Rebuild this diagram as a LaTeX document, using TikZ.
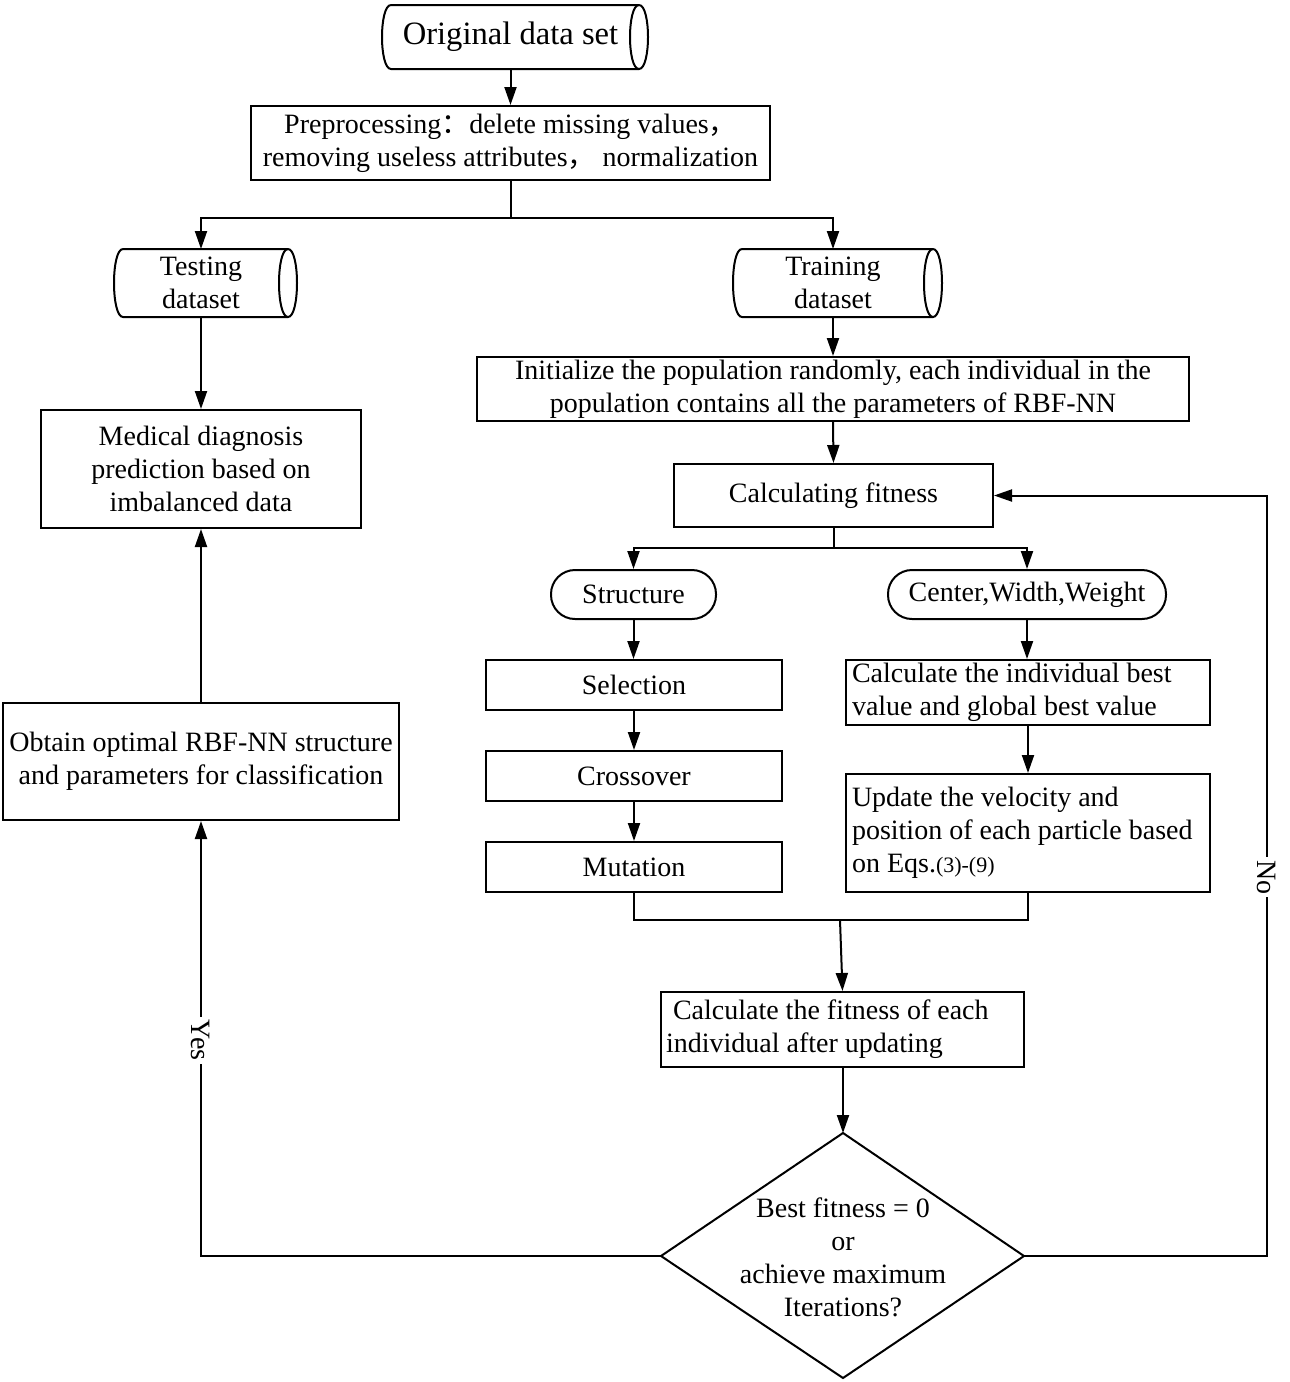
\documentclass[tikz,border=0pt]{standalone}
\usepackage{fontspec}
\setmainfont{Liberation Serif}
\newfontfamily\cjk{Noto Sans CJK SC}
\usetikzlibrary{arrows.meta}
\tikzset{
  txt/.style={font=\fontsize{14}{16.5}\selectfont},
  box/.style={txt, draw, rectangle, inner sep=0pt, align=center},
  lbox/.style={txt, draw, rectangle, inner xsep=3pt, inner ysep=0pt, align=flush left},
  pill/.style={box, rounded corners=12pt},
  dbbody/.style={txt, rectangle, inner sep=0pt, align=center},
  arr/.style={-{Triangle[length=9pt,width=6pt]}},
  lbl/.style={txt, fill=white, rotate=-90, inner sep=1.5pt},
}
\newcommand\drawdb[1]{%
  \draw ([xshift=4.5pt]#1.north west) -- (#1.north east)
        (#1.south east) -- ([xshift=4.5pt]#1.south west)
        .. controls ([xshift=-1.5pt]#1.south west) and ([xshift=-1.5pt]#1.north west) .. ([xshift=4.5pt]#1.north west);
  \draw (#1.north east) .. controls ([xshift=6pt]#1.north east) and ([xshift=6pt]#1.south east) .. (#1.south east)
        .. controls ([xshift=-6pt]#1.south east) and ([xshift=-6pt]#1.north east) .. (#1.north east);
}
\begin{document}
\begin{tikzpicture}[x=0.5pt,y=-0.5pt,line width=1pt]
\useasboundingbox (0,0) rectangle (1290,1382);

% cylinders
\node[dbbody, minimum width=127.5pt, minimum height=31pt, font=\fontsize{16.3}{19}\selectfont] (orig) at (510.5,37) {Original data set};
\drawdb{orig}
\node[dbbody, minimum width=86pt, minimum height=33pt] (test) at (201,283) {Testing\\dataset};
\drawdb{test}
\node[dbbody, minimum width=99pt, minimum height=33pt] (train) at (833,283) {Training\\dataset};
\drawdb{train}

% boxes
\node[box, minimum width=259.5pt, minimum height=37pt] (pre) at (510.5,143)
  {Preprocessing{\cjk ：}delete missing values{\cjk ，}\\removing useless attributes{\cjk ，} normalization};
\node[box, minimum width=356pt, minimum height=32pt] (init) at (833,389)
  {Initialize the population randomly, each individual in the\\population contains all the parameters of RBF-NN};
\node[box, minimum width=159.5pt, minimum height=31.5pt] (calc) at (833.5,495.5) {Calculating fitness};
\node[pill, minimum width=82.5pt, minimum height=24.5pt] (struct) at (633.5,594.5) {Structure};
\node[pill, minimum width=139pt, minimum height=24.5pt] (cww) at (1027,594.5) {Center,Width,Weight};
\node[box, minimum width=148pt, minimum height=25pt] (sel) at (634,685) {Selection};
\node[box, minimum width=148pt, minimum height=25pt] (cro) at (634,776) {Crossover};
\node[box, minimum width=148pt, minimum height=25pt] (mut) at (634,867) {Mutation};
\node[lbox, text width=176pt, minimum height=32.5pt] (ibest) at (1028,692.5)
  {Calculate the individual best\\value and global best value};
\node[lbox, text width=176pt, minimum height=59pt] (upd) at (1028,833)
  {Update the velocity and\\position of each particle based\\on Eqs.{\fontsize{11}{13}\selectfont(3)-(9)}};
\node[lbox, inner xsep=2.5pt, text width=176.5pt, minimum height=37.5pt] (cfe) at (842.5,1029.5)
  {\hspace*{3.5pt}Calculate the fitness of each\\individual after updating};
\node[box, minimum width=160pt, minimum height=59pt] (med) at (201,469)
  {Medical diagnosis\\prediction based on\\imbalanced data};
\node[box, minimum width=198pt, minimum height=58.5pt] (obt) at (201,761.5)
  {Obtain optimal RBF-NN structure\\and parameters for classification};

% decision
\node[txt, align=center, inner sep=0pt] (dec) at (843,1257)
  {Best fitness = 0\\or\\achieve maximum\\Iterations?};
\coordinate (dtop) at (843,1133);
\coordinate (dleft) at (661,1256);
\coordinate (dright) at (1024,1256);
\coordinate (dbot) at (843,1378);
\draw (dtop) -- (dright) -- (dbot) -- (dleft) -- cycle;

% connectors
\draw[arr] (orig.south) -- (orig.south |- pre.north);
\coordinate (s1) at (511,218);
\draw (pre.south -| s1) -- (s1);
\draw[arr] (s1) -| (test.north);
\draw[arr] (s1) -| (train.north);
\draw[arr] (train.south) -- (init.north -| train.south);
\draw[arr] (init.south) -- (calc.north);
\coordinate (s2) at (833.5,548);
\draw (calc.south) -- (s2);
\draw[arr] (s2) -| (struct.north);
\draw[arr] (s2) -| (cww.north);
\draw[arr] (struct.south) -- (sel.north -| struct.south);
\draw[arr] (sel) -- (cro);
\draw[arr] (cro) -- (mut);
\draw[arr] (cww.south) -- (ibest.north -| cww.south);
\draw[arr] (ibest) -- (upd);
\coordinate (jl) at (634,920);
\coordinate (jm) at (840,920);
\draw (mut.south) -- (jl) -- (jl -| upd.south) -- (upd.south);
\draw[arr] (jm) -- (cfe.north);
\draw[arr] (cfe.south -| dtop) -- (dtop);
\draw[arr] (dleft) -| (obt.south) node[lbl, pos=0.748] {Yes};
\coordinate (nc) at (1267,1256);
\draw[arr] (dright) -- (nc) |- (calc.east) node[lbl, pos=0.249] {No};
\draw[arr] (obt) -- (med);
\draw[arr] (test) -- (med);
\end{tikzpicture}
\end{document}
